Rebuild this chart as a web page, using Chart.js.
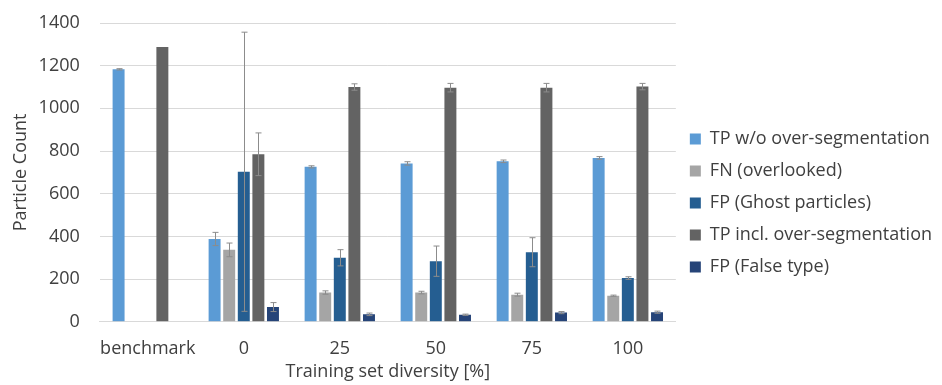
<!DOCTYPE html>
<html lang="en">
<head>
    <meta charset="UTF-8">
    <title>Particle Count vs Training Set Diversity</title>
    <script src="https://cdn.jsdelivr.net/npm/chart.js@4.4.1/dist/chart.umd.min.js"></script>
    <style>
        html, body { margin: 0; padding: 0; background: #fff; }
        #wrap { width: 942px; height: 385px; }
    </style>
</head>
<body>
    <div id="wrap"><canvas id="chart"></canvas></div>

    <script>
        // Data
        const categories = ['benchmark', '0', '25', '50', '75', '100'];

        const tpWithout    = [1183, 388, 726, 742, 752, 768];
        const tpWithoutErr = [3, 31, 5, 8, 6, 6];
        const fnOverlooked = [null, 337, 137, 137, 127, 122];
        const fnErr        = [0, 32, 8, 6, 7, 3];
        const fpGhost      = [null, 703, 300, 284, 326, 205];
        const fpGhostErr   = [0, 654, 38, 71, 68, 6];
        const tpIncl       = [1288, 785, 1100, 1097, 1097, 1102];
        const tpInclErr    = [0, 100, 15, 20, 20, 15];
        const fpFalseType  = [null, 69, 35, 33, 43, 45];
        const fpFalseErr   = [0, 21, 6, 3, 5, 5];

        const yTicks = [0, 200, 400, 600, 800, 1000, 1200, 1400];

        const textColor = '#404040';
        const fontFamily = '"Open Sans", "Noto Sans", sans-serif';
        const fontSize = 18;

        // draws +/- error bars on top of each bar, using the chart's own scales
        const errorBars = {
            id: 'errorBars',
            afterDatasetsDraw(chart) {
                const ctx = chart.ctx;
                const yScale = chart.scales.y;
                ctx.save();
                ctx.strokeStyle = '#8c8c8c';
                ctx.lineWidth = 1;
                chart.data.datasets.forEach((ds, i) => {
                    const meta = chart.getDatasetMeta(i);
                    if (!ds.errors) return;
                    meta.data.forEach((bar, j) => {
                        const v = ds.data[j];
                        const e = ds.errors[j];
                        if (v == null || !e) return;
                        const x = Math.round(bar.x) + 0.5;
                        const top = yScale.getPixelForValue(v + e);
                        const bot = yScale.getPixelForValue(Math.max(v - e, 0));
                        ctx.beginPath();
                        ctx.moveTo(x, top);
                        ctx.lineTo(x, bot);
                        ctx.moveTo(x - 3, top);
                        ctx.lineTo(x + 3, top);
                        ctx.moveTo(x - 3, bot);
                        ctx.lineTo(x + 3, bot);
                        ctx.stroke();
                    });
                });
                ctx.restore();
            }
        };

        const ctx = document.getElementById('chart').getContext('2d');
        new Chart(ctx, {
            type: 'bar',
            data: {
                labels: categories,
                datasets: [
                    { label: 'TP w/o over-segmentation', data: tpWithout, errors: tpWithoutErr, backgroundColor: '#5b9bd5' },
                    { label: 'FN (overlooked)', data: fnOverlooked, errors: fnErr, backgroundColor: '#a5a5a5' },
                    { label: 'FP (Ghost particles)', data: fpGhost, errors: fpGhostErr, backgroundColor: '#255e91' },
                    { label: 'TP incl. over-segmentation', data: tpIncl, errors: tpInclErr, backgroundColor: '#636363' },
                    { label: 'FP (False type)', data: fpFalseType, errors: fpFalseErr, backgroundColor: '#264478' }
                ]
            },
            options: {
                responsive: true,
                maintainAspectRatio: false,
                animation: false,
                datasets: {
                    bar: { categoryPercentage: 0.76, barPercentage: 0.82 }
                },
                layout: { padding: { left: 2, right: 0, top: 23, bottom: 2 } },
                plugins: {
                    legend: {
                        position: 'right',
                        maxWidth: 320,
                        labels: {
                            boxWidth: 11,
                            boxHeight: 11,
                            padding: 14,
                            color: textColor,
                            font: { family: fontFamily, size: fontSize }
                        }
                    },
                    tooltip: { enabled: false }
                },
                scales: {
                    x: {
                        grid: { display: false },
                        border: { display: true, color: '#d9d9d9' },
                        ticks: {
                            color: textColor,
                            font: { family: fontFamily, size: fontSize },
                            padding: 8,
                            maxRotation: 0,
                            minRotation: 0,
                            autoSkip: false
                        },
                        title: {
                            display: true,
                            text: 'Training set diversity [%]',
                            color: textColor,
                            font: { family: fontFamily, size: fontSize },
                            padding: { top: -6, bottom: 0 }
                        }
                    },
                    y: {
                        min: 0,
                        max: 1400,
                        afterBuildTicks: axis => { axis.ticks = yTicks.map(v => ({ value: v })); },
                        // keep the tick padding from pushing the plot down
                        afterFit: axis => { axis.paddingTop = 0; },
                        grid: { color: '#d9d9d9', drawTicks: false },
                        border: { display: false },
                        ticks: {
                            color: textColor,
                            font: { family: fontFamily, size: fontSize },
                            padding: 20,
                            callback: v => String(v)
                        },
                        title: {
                            display: true,
                            text: 'Particle Count',
                            color: textColor,
                            font: { family: fontFamily, size: fontSize },
                            padding: { top: 8, bottom: -13 }
                        }
                    }
                }
            },
            plugins: [errorBars]
        });
    </script>
</body>
</html>
